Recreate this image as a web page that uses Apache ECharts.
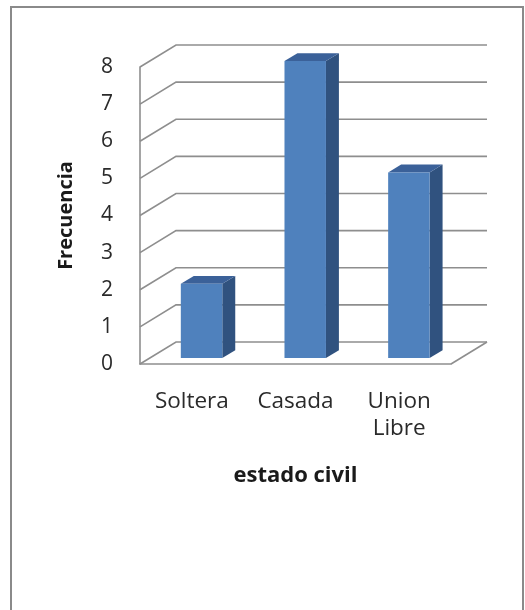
<!DOCTYPE html>
<html>
<head>
<meta charset="utf-8">
<script src="https://cdn.jsdelivr.net/npm/echarts@6/dist/echarts.min.js"></script>
<style>
  html, body { margin: 0; padding: 0; background: #fff; }
  #main { width: 525px; height: 610px; }
</style>
</head>
<body>
<div id="main"></div>
<script>
// datos
var categorias = ['Soltera', 'Casada', 'Union Libre'];
var frecuencias = [2, 8, 5];
var ticksY = [0, 1, 2, 3, 4, 5, 6, 7, 8];

// profundidad del "3D" (px): piso completo, cara frontal de barra, grosor de barra
var PROF = [36, -22];
var FRENTE = 0.27;
var GROSOR = 0.36;
var colorLinea = '#8e8e8e';
var fuente = 'Open Sans';

var chart = echarts.init(document.getElementById('main'));

// paredes y lineas de division en perspectiva
var paredes = function (params, api) {
  var cs = params.coordSys;
  var v = api.value(0);
  var y = api.coord([0, v])[1];
  var izq = cs.x, der = cs.x + cs.width;
  var hijos = [{
    type: 'polyline',
    shape: { points: [[izq, y], [izq + PROF[0], y + PROF[1]], [der + PROF[0], y + PROF[1]]] },
    style: { stroke: colorLinea, lineWidth: 1.6, fill: null }
  }];
  if (v === 0) {
    hijos.push({
      type: 'line',
      shape: { x1: der, y1: y, x2: der + PROF[0], y2: y + PROF[1] },
      style: { stroke: colorLinea, lineWidth: 1.6 }
    });
  }
  return { type: 'group', children: hijos };
};

// barras 3D
var barras = function (params, api) {
  var i = api.value(0);
  var v = api.value(1);
  var banda = api.size([1, 0])[0];
  var w = banda * 0.4;
  var arriba = api.coord([i, v]);
  var abajo = api.coord([i, 0]);
  var fx = PROF[0] * FRENTE, fy = PROF[1] * FRENTE;
  var dx = PROF[0] * GROSOR, dy = PROF[1] * GROSOR;
  var x = arriba[0] - w / 2 + fx;
  var top = arriba[1] + fy;
  var bot = abajo[1] + fy;
  return {
    type: 'group',
    children: [
      {
        type: 'polygon',
        shape: { points: [[x + w, top], [x + w + dx, top + dy], [x + w + dx, bot + dy], [x + w, bot]] },
        style: { fill: '#30527f' }
      },
      {
        type: 'polygon',
        shape: { points: [[x, top], [x + dx, top + dy], [x + w + dx, top + dy], [x + w, top]] },
        style: { fill: '#3b6199' }
      },
      {
        type: 'rect',
        shape: { x: x, y: top, width: w, height: bot - top },
        style: { fill: '#4f81bd' }
      }
    ]
  };
};

var option = {
  animation: false,
  backgroundColor: '#fff',
  graphic: [{
    type: 'rect',
    shape: { x: 11, y: 7, width: 512, height: 620 },
    style: { fill: null, stroke: '#8a8a8a', lineWidth: 2 }
  }],
  grid: { left: 140, top: 67, width: 311, height: 297 },
  xAxis: {
    type: 'category',
    data: categorias,
    name: 'estado civil',
    nameLocation: 'middle',
    nameGap: 101,
    nameTextStyle: { fontFamily: fuente, fontWeight: 'bold', fontSize: 22, color: '#1a1a1a' },
    axisLine: { show: true, lineStyle: { color: colorLinea, width: 1.6 } },
    axisTick: { show: false },
    axisLabel: {
      margin: 24,
      fontFamily: fuente,
      fontSize: 22.5,
      lineHeight: 27,
      color: '#2a2a2a',
      formatter: function (t) { return t.replace(' ', '\n'); }
    },
    splitLine: { show: false }
  },
  yAxis: {
    type: 'value',
    min: 0,
    max: 8,
    interval: 1,
    name: 'Frecuencia',
    nameLocation: 'middle',
    nameRotate: 90,
    nameGap: 64,
    nameTextStyle: { fontFamily: fuente, fontWeight: 'bold', fontSize: 20, color: '#1a1a1a' },
    axisLine: { show: true, lineStyle: { color: colorLinea, width: 1.6 } },
    axisTick: { show: false },
    axisLabel: { margin: 27, padding: [6, 0, 0, 0], fontFamily: fuente, fontSize: 21, color: '#2a2a2a' },
    splitLine: { show: false }
  },
  series: [
    {
      type: 'custom',
      renderItem: paredes,
      data: ticksY.map(function (t) { return [t]; }),
      encode: { y: 0 },
      z: 1,
      silent: true
    },
    {
      type: 'custom',
      renderItem: barras,
      data: frecuencias.map(function (f, i) { return [i, f]; }),
      encode: { x: 0, y: 1 },
      z: 5
    }
  ]
};

chart.setOption(option);
</script>
</body>
</html>
